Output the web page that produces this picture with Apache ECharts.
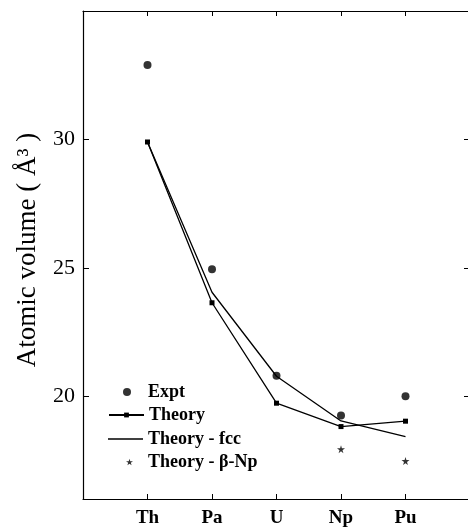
<!DOCTYPE html>
<html>
<head>
    <meta charset="utf-8">
    <title>Atomic volume</title>
    <script src="https://cdn.jsdelivr.net/npm/echarts@6/dist/echarts.min.js"></script>
    <style>
        html, body {
            margin: 0;
            width: 100%;
            height: 100%;
            background: #fff;
        }

        #main {
            width: 468px;
            height: 529px;
        }
    </style>
</head>
<body>
<div id="main"></div>
<script type="text/javascript">
    var myChart = echarts.init(document.getElementById('main'));

    const serif = '"Liberation Serif", "DejaVu Serif", serif';
    const starPath = 'path://M50,0 L61,35 L98,35 L68,57 L79,91 L50,70 L21,91 L32,57 L2,35 L39,35 Z';

    // data
    const elements = ['Th', 'Pa', 'U', 'Np', 'Pu'];
    const expt = [32.9, 24.95, 20.8, 19.25, 20.0];
    const theory = [29.9, 23.64, 19.73, 18.82, 19.03];
    const theoryFcc = [29.9, 24.05, 20.78, 19.04, 18.43];
    const theoryBetaNp = [null, null, null, 17.94, 17.48];

    // empty slots at both ends so the elements sit at 1..5 of a 0..6 span
    const pad = arr => [null].concat(arr, [null]);
    const axisCats = pad(elements).map(c => c || '');

    const legendText = {
        fontFamily: serif,
        fontSize: 18,
        fontWeight: 'bold',
        color: '#000'
    };

    const frameLine = {show: true, lineStyle: {color: '#000', width: 1.2}};
    const frameTick = {show: true, inside: true, length: 6, lineStyle: {color: '#000'}};

    var option = {
        animation: false,
        backgroundColor: '#fff',
        grid: {
            left: 83,
            right: -2,
            top: 11,
            bottom: 30,
            outerBoundsMode: 'none'
        },
        legend: [{
            data: ['Expt'],
            left: 123, top: 383, padding: 0,
            icon: 'circle', itemWidth: 8, itemHeight: 8,
            textStyle: Object.assign({padding: [0, 0, 0, 12]}, legendText)
        }, {
            data: ['Theory'],
            left: 108, top: 406, padding: 0,
            itemWidth: 35, itemHeight: 6,
            textStyle: legendText
        }, {
            data: ['Theory - fcc'],
            left: 108, top: 430, padding: 0,
            icon: 'rect', itemWidth: 35, itemHeight: 1.4,
            textStyle: legendText
        }, {
            data: ['Theory - β-Np'],
            left: 126, top: 453, padding: 0,
            icon: starPath, itemWidth: 7, itemHeight: 7,
            textStyle: Object.assign({padding: [0, 0, 0, 10]}, legendText)
        }],
        xAxis: [{
            type: 'category',
            data: axisCats,
            boundaryGap: false,
            position: 'bottom',
            axisLine: frameLine,
            axisTick: {show: true, inside: true, length: 5, lineStyle: {color: '#000'}},
            axisLabel: {
                color: '#000', fontFamily: serif, fontSize: 19,
                fontWeight: 'bold', margin: 10
            },
            splitLine: {show: false}
        }, {
            type: 'category',
            data: axisCats,
            boundaryGap: false,
            position: 'top',
            axisLine: frameLine,
            axisTick: {show: true, inside: true, length: 5, lineStyle: {color: '#000'}},
            axisLabel: {show: false},
            splitLine: {show: false}
        }],
        yAxis: [{
            type: 'value',
            min: 16,
            max: 35,
            splitNumber: 4,
            position: 'left',
            name: 'Atomic volume ( Å³ )',
            nameLocation: 'middle',
            nameGap: 42,
            nameTextStyle: {
                color: '#000',
                fontFamily: serif,
                fontSize: 27,
                padding: [0, 0, 0, 10]
            },
            axisLine: frameLine,
            axisTick: frameTick,
            axisLabel: {
                color: '#000', fontFamily: serif, fontSize: 22, margin: 8,
                formatter: v => (v % 5 === 0 && v < 35 ? String(v) : '')
            },
            splitLine: {show: false}
        }, {
            type: 'value',
            min: 16,
            max: 35,
            splitNumber: 4,
            position: 'right',
            axisLine: frameLine,
            axisTick: frameTick,
            axisLabel: {show: false},
            splitLine: {show: false}
        }],
        series: [{
            name: 'Expt',
            type: 'scatter',
            data: pad(expt),
            symbol: 'circle',
            symbolSize: 8,
            itemStyle: {color: '#000'}
        }, {
            name: 'Theory',
            type: 'line',
            data: pad(theory),
            symbol: 'rect',
            symbolSize: 5,
            itemStyle: {color: '#000'},
            lineStyle: {color: '#000', width: 1.3}
        }, {
            name: 'Theory - fcc',
            type: 'line',
            data: pad(theoryFcc),
            symbol: 'none',
            itemStyle: {color: '#000'},
            lineStyle: {color: '#000', width: 1.3}
        }, {
            name: 'Theory - β-Np',
            type: 'scatter',
            data: pad(theoryBetaNp),
            symbol: starPath,
            symbolSize: 8,
            itemStyle: {color: '#000'}
        }]
    };

    myChart.setOption(option);
</script>
</body>
</html>
